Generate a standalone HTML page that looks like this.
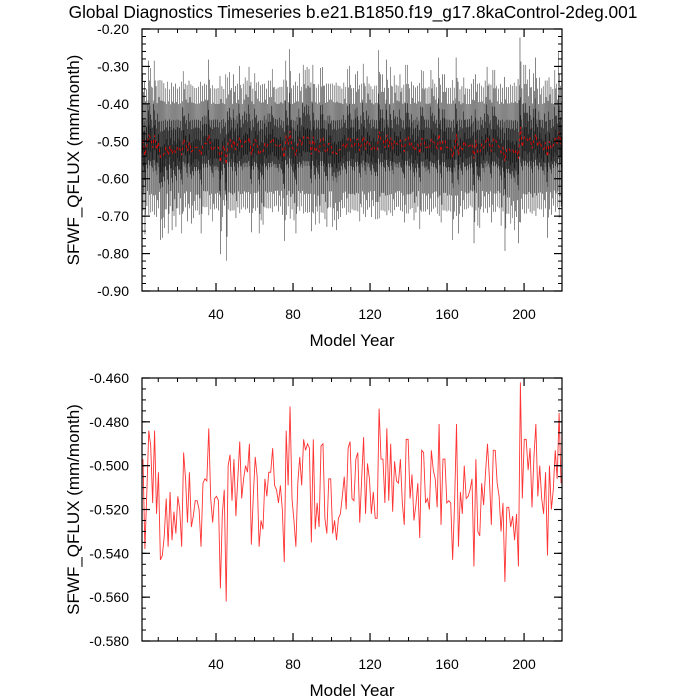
<!DOCTYPE html>
<html><head><meta charset="utf-8"><style>
body{margin:0;background:#fff}
svg{display:block;font-family:"Liberation Sans",sans-serif}
</style></head><body>
<svg id="c" width="700" height="700" viewBox="0 0 700 700">
<text x="353" y="18" font-size="17.3" text-anchor="middle">Global Diagnostics Timeseries b.e21.B1850.f19_g17.8kaControl-2deg.001</text>
</svg>
<script>
// Annual mean SFWF_QFLUX (mm/month), model years ~1..219
const annualValues = [
-0.497,-0.538,-0.512,-0.484,-0.491,-0.517,-0.484,-0.522,-0.503,-0.543,-0.541,-0.532,-0.515,-0.537,-0.512,-0.534,-0.521,-0.531,-0.514,-0.520,
-0.537,-0.494,-0.506,-0.526,-0.503,-0.528,-0.523,-0.516,-0.516,-0.520,-0.537,-0.508,-0.506,-0.507,-0.483,-0.515,-0.526,-0.515,-0.514,-0.516,
-0.556,-0.522,-0.511,-0.562,-0.500,-0.495,-0.516,-0.497,-0.523,-0.506,-0.489,-0.515,-0.506,-0.500,-0.503,-0.490,-0.536,-0.514,-0.496,-0.505,
-0.537,-0.525,-0.529,-0.506,-0.514,-0.503,-0.503,-0.492,-0.509,-0.511,-0.517,-0.509,-0.520,-0.544,-0.484,-0.509,-0.473,-0.515,-0.525,-0.537,
-0.508,-0.496,-0.509,-0.488,-0.493,-0.490,-0.492,-0.535,-0.488,-0.529,-0.517,-0.528,-0.491,-0.490,-0.524,-0.531,-0.506,-0.506,-0.531,-0.525,
-0.534,-0.524,-0.522,-0.514,-0.505,-0.520,-0.492,
-0.489,-0.515,-0.516,-0.497,-0.494,-0.526,-0.506,-0.487,-0.522,-0.499,-0.506,-0.522,-0.512,-0.524,-0.524,-0.474,-0.497,-0.497,-0.517,-0.483,
-0.516,-0.490,-0.521,-0.498,-0.507,-0.508,-0.497,-0.517,-0.527,-0.488,-0.488,-0.515,-0.504,-0.525,-0.518,-0.508,-0.533,-0.493,-0.494,-0.517,
-0.515,-0.520,-0.493,-0.502,-0.506,-0.519,-0.481,-0.527,-0.497,-0.497,-0.517,-0.516,-0.517,-0.543,-0.517,-0.481,-0.537,-0.512,-0.522,-0.500,
-0.515,-0.514,-0.511,-0.506,-0.546,-0.497,-0.530,-0.532,-0.508,-0.518,-0.503,-0.490,-0.506,-0.527,-0.493,-0.493,-0.508,-0.514,-0.530,-0.517,
-0.553,-0.519,-0.519,-0.528,-0.523,-0.534,-0.522,-0.546,-0.462,-0.515,-0.488,-0.488,-0.502,-0.492,-0.519,-0.496,-0.481,-0.514,-0.500,-0.515,
-0.522,-0.503,-0.541,-0.500,-0.520,-0.511,-0.493,-0.506,-0.476,-0.508
];
// monthly anomaly about annual mean (Jan..Dec)
const seasonalAnomaly = [0.03,0.07,-0.05,0.15,-0.03,0.05,-0.16,0.02,-0.06,0.11,-0.02,-0.12];
const xTicks = [40,80,120,160,200];
const topYTicks = [-0.2,-0.3,-0.4,-0.5,-0.6,-0.7,-0.8,-0.9];
const botYTicks = [-0.46,-0.48,-0.5,-0.52,-0.54,-0.56,-0.58];

const svg = document.getElementById('c');
const NS = 'http://www.w3.org/2000/svg';
function mk(tag, attrs, parent){const e=document.createElementNS(NS,tag);for(const k in attrs)e.setAttribute(k,attrs[k]);(parent||svg).appendChild(e);return e;}

const X0=142, X1=562, YR0=1.56, YR1=219.7;
function xs(yr){return X0+(yr-YR0)/(YR1-YR0)*(X1-X0);}
const nYears = annualValues.length;
function yearOf(i){return YR0+(i+0.5)*(YR1-YR0)/nYears;}
const meanVal = annualValues.reduce((a,b)=>a+b,0)/nYears;

function panel(name, top, bot, vmax, vmin){
  const ys = v => top+(vmax-v)/(vmax-vmin)*(bot-top);
  const g = mk('g',{});
  
  
  return {g, ys};
}
function axes(p, top, bot, vmax, vmin, yt, minorStep, dec){
  const g=p.g, ys=p.ys;
  for(let v=vmax; v>=vmin-1e-9; v-=minorStep){
    const y=ys(v);
    const t1=mk('line',{x1:X0,x2:X0+4,y1:y,y2:y,stroke:'#000','stroke-width':1},g);
    
    
    const t2=mk('line',{x1:X1,x2:X1-4,y1:y,y2:y,stroke:'#000','stroke-width':1},g);
    
    
  }
  yt.forEach(v=>{
    const y=ys(v);
    const a=mk('line',{x1:X0,x2:X0+8,y1:y,y2:y,stroke:'#000','stroke-width':1.2},g);
    
    
    const b=mk('line',{x1:X1,x2:X1-8,y1:y,y2:y,stroke:'#000','stroke-width':1.2},g);
    
    
    const t=mk('text',{x:X0-13,y:y+5,'font-size':14,'text-anchor':'end'},g);
    t.textContent=v.toFixed(dec);
    
    
  });
  for(let yr=10; yr<=YR1; yr+=10){
    const x=xs(yr), major=(yr%40===0), L=major?8:4;
    const a=mk('line',{x1:x,x2:x,y1:bot,y2:bot-L,stroke:'#000','stroke-width':major?1.2:1},g);
    
    
    const b=mk('line',{x1:x,x2:x,y1:top,y2:top+L,stroke:'#000','stroke-width':major?1.2:1},g);
    
    
  }
  xTicks.forEach(v=>{
    const t=mk('text',{x:xs(v),y:bot+28,'font-size':14,'text-anchor':'middle'},g);
    t.textContent=String(v);
    
    
  });
  const r=mk('rect',{x:X0,y:top,width:X1-X0,height:bot-top,fill:'none',stroke:'#000','stroke-width':1.2},g);
  
  
  const xt=mk('text',{x:(X0+X1)/2,y:bot+55,'font-size':17,'text-anchor':'middle'},g);
  xt.textContent='Model Year';
  
  
  const cy=(top+bot)/2;
  const yt2=mk('text',{x:79,y:cy,'font-size':17,'text-anchor':'middle',transform:`rotate(-90 79 ${cy})`},g);
  yt2.textContent='SFWF_QFLUX (mm/month)';
  
  
}

// Top panel: monthly (black) + annual (red)
const P1=panel('monthly-panel',29,291,-0.2,-0.9);
let d='';
annualValues.forEach((v,i)=>{
  const y0=yearOf(i)-0.5*(YR1-YR0)/nYears;
  const amp=1+12*Math.abs(v-meanVal);
  seasonalAnomaly.forEach((s,m)=>{
    const x=xs(y0+(m+0.5)/12*(YR1-YR0)/nYears);
    d+=(d?'L':'M')+x.toFixed(2)+' '+P1.ys(v+s*amp).toFixed(2);
  });
});
const ml=mk('path',{d,fill:'none',stroke:'#000','stroke-width':0.35,'stroke-opacity':0.8},P1.g);


let d2='';
annualValues.forEach((v,i)=>{d2+=(i?'L':'M')+xs(yearOf(i)).toFixed(2)+' '+P1.ys(v).toFixed(2);});
const al=mk('path',{d:d2,fill:'none',stroke:'#f00','stroke-width':0.8,'stroke-dasharray':'3 3'},P1.g);


axes(P1,29,291,-0.2,-0.9,topYTicks,0.02,2);

// Bottom panel: annual (red)
const P2=panel('annual-panel',378,641,-0.46,-0.58);
let d3='';
annualValues.forEach((v,i)=>{d3+=(i?'L':'M')+xs(yearOf(i)).toFixed(2)+' '+P2.ys(v).toFixed(2);});
const bl=mk('path',{d:d3,fill:'none',stroke:'#f33','stroke-width':0.9},P2.g);


axes(P2,378,641,-0.46,-0.58,botYTicks,0.005,3);
</script>
</body></html>
